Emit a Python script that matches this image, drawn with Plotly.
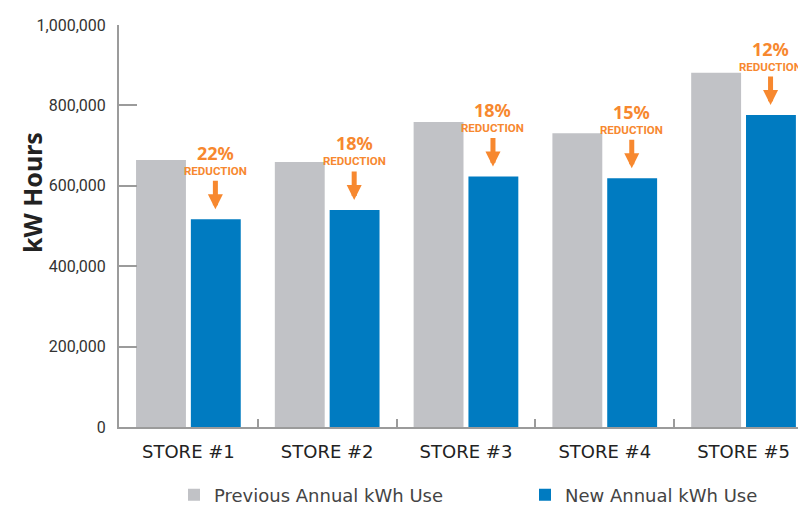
import plotly.graph_objects as go

stores = ["STORE #1", "STORE #2", "STORE #3", "STORE #4", "STORE #5"]
previous_kwh = [664000, 659000, 759000, 731000, 881000]
new_kwh = [517000, 540000, 623000, 619000, 776000]
reductions = ["22%", "18%", "18%", "15%", "12%"]
y_ticks = [0, 200000, 400000, 600000, 800000, 1000000]
y_tick_labels = ["0", "200,000", "400,000", "600,000", "800,000", "1,000,000"]

GRAY = "#C1C2C6"
BLUE = "#007BC1"
ORANGE = "#F7882F"
AXIS = "#9B9B9B"
NARROW = "Roboto, sans-serif"

# The page body adds an 8px margin, so the figure is sized to fit the window.
W, H = 798, 498
PL, PT, PB = 111, 17, 79
PW = W - PL
PH = H - PT - PB

fig = go.Figure()
fig.add_trace(go.Bar(x=stores, y=previous_kwh, name="Previous Annual kWh Use",
                     marker=dict(color=GRAY, line=dict(width=0)), legend="legend"))
fig.add_trace(go.Bar(x=stores, y=new_kwh, name="New Annual kWh Use",
                     marker=dict(color=BLUE, line=dict(width=0)), legend="legend2"))

for s, v, r in zip(stores, new_kwh, reductions):
    label = (f'<span style="font-family:Noto Sans;font-size:18px;font-weight:bold">{r}</span>'
             f'<br>REDUCTION')
    fig.add_annotation(x=s, y=v, xref="x", yref="y", text=label, showarrow=False,
                       xshift=27, yshift=60, yanchor="middle",
                       font=dict(family=NARROW, size=11.5, color=ORANGE, weight="bold"))
    fig.add_annotation(x=s, y=v, xref="x", yref="y", text="", showarrow=True,
                       xshift=27, ax=0, ay=-40, standoff=10,
                       arrowhead=2, arrowsize=0.6, arrowwidth=5, arrowcolor=ORANGE)

fig.add_annotation(x=(32 - 119) / PW, y=(427 - 193) / PH, xref="paper", yref="paper",
                   xanchor="center", yanchor="middle",
                   text="<b>kW Hours</b>", showarrow=False, textangle=-90,
                   font=dict(family="Noto Sans", size=25, color="#222222"))

legend_font = dict(family="DejaVu Sans", size=18, color="#444444")
LEG_Y = (H - (495 - 8)) / H
fig.update_layout(
    width=W, height=H,
    margin=dict(l=PL, r=0, t=PT, b=PB, autoexpand=False),
    paper_bgcolor="white", plot_bgcolor="white",
    barmode="group", bargap=0.21, bargroupgap=0.09,
    showlegend=True,
    legend=dict(orientation="h", xref="container", x=(174 - 8) / W, xanchor="left",
                yref="container", y=LEG_Y, yanchor="middle",
                font=legend_font, bgcolor="rgba(0,0,0,0)"),
    legend2=dict(orientation="h", xref="container", x=(525 - 8) / W, xanchor="left",
                 yref="container", y=LEG_Y, yanchor="middle",
                 font=legend_font, bgcolor="rgba(0,0,0,0)"),
    xaxis=dict(range=[-0.5, 4.45], showline=True, linecolor=AXIS, linewidth=2,
               ticks="inside", ticklen=8, tickwidth=1.5, tickcolor=AXIS, tickson="boundaries",
               showgrid=False, zeroline=False, automargin=False, ticklabelstandoff=7,
               tickfont=dict(family="DejaVu Sans", size=18, color="#222222")),
    yaxis=dict(range=[0, 1000000], showline=True, linecolor=AXIS, linewidth=2,
               tickvals=y_ticks, ticktext=y_tick_labels,
               ticks="inside", ticklen=18, tickwidth=2, tickcolor=AXIS,
               showgrid=False, zeroline=False, automargin=False, ticklabelstandoff=8,
               tickfont=dict(family=NARROW, size=16, color="#333333")),
)

fig.write_html("out.html")
